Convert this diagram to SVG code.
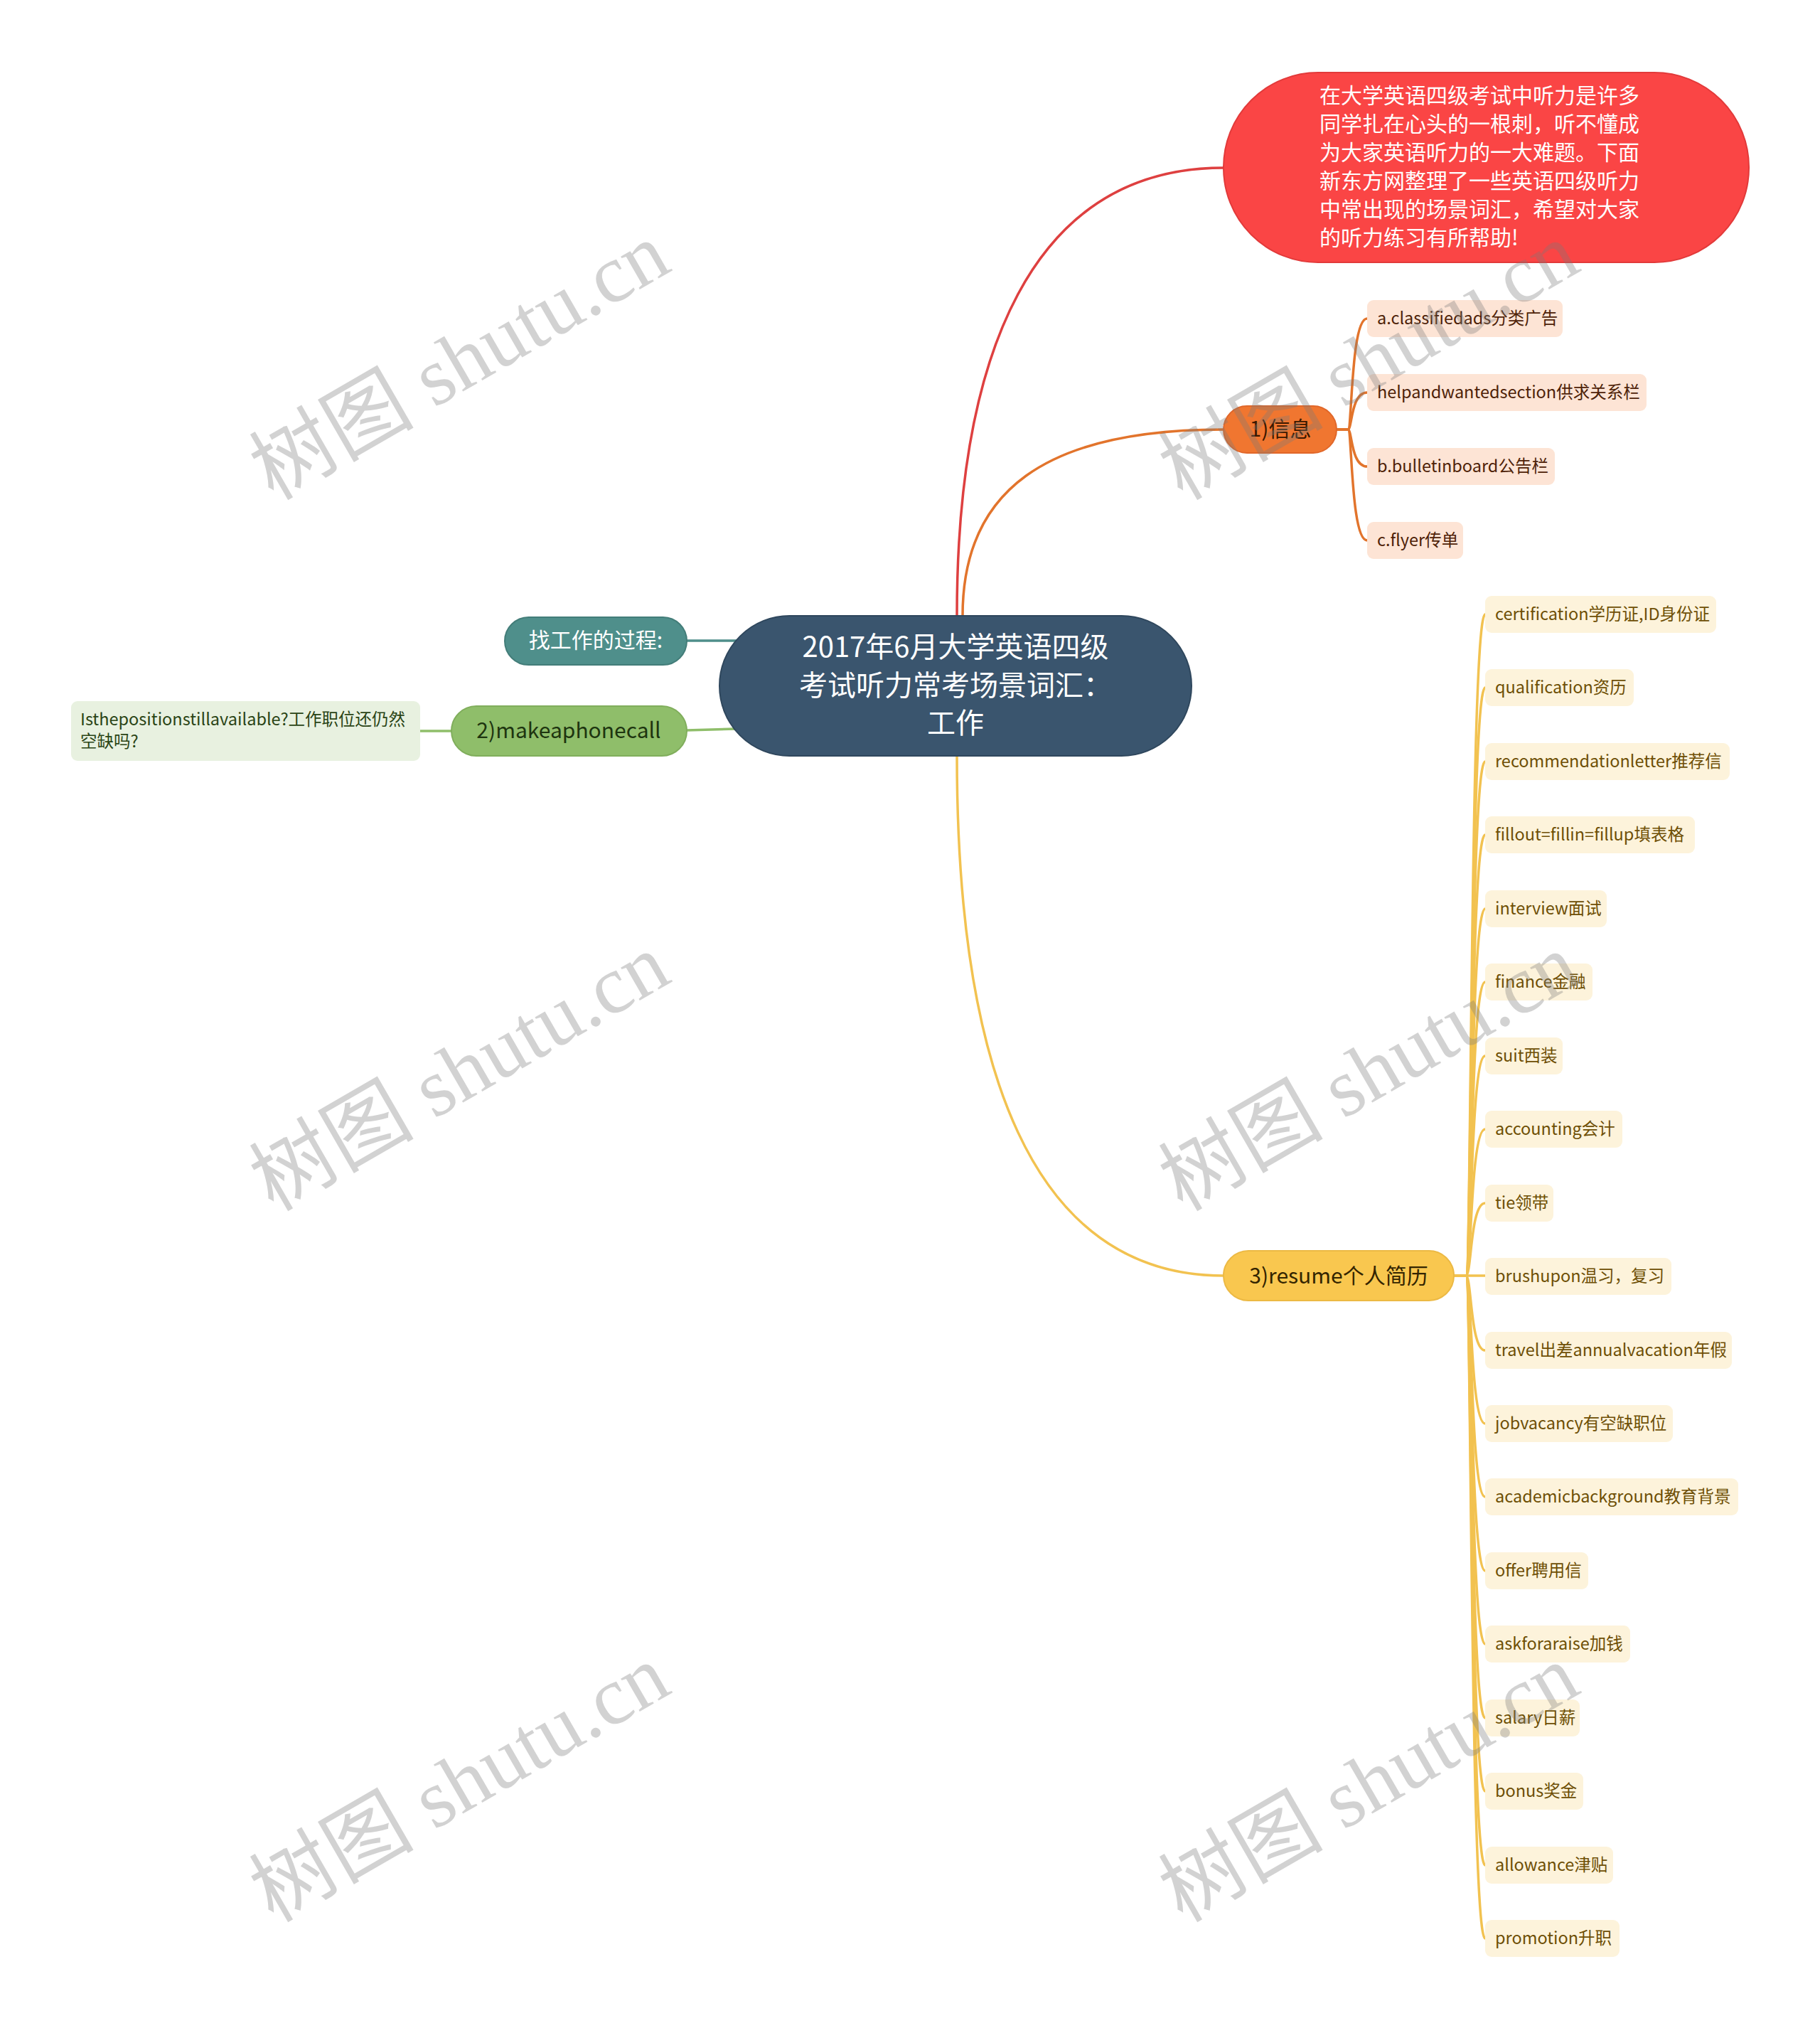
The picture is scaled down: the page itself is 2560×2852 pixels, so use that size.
<svg xmlns="http://www.w3.org/2000/svg" width="2560" height="2852" viewBox="0 0 2560 2852">
<style>
text{font-family:"Noto Sans CJK SC","Noto Sans",sans-serif}
.c{fill:none;stroke-width:3.5;stroke-linecap:round}
.leafO rect{fill:#fde4d5}
.leafO text{font-size:23.5px;fill:#4e2208}
.leafY rect{fill:#fdf3db}
.leafY text{font-size:23.5px;fill:#6e4f05}
.main text{font-size:30px}
.wm{font-family:"Liberation Serif","Noto Sans CJK SC",serif;font-size:116px;fill:#7a7a7a;opacity:0.33}
</style>
<rect width="2560" height="2852" fill="#ffffff"/>
<g id="connectors">
<path class="c" stroke="#de4040" d="M1346,866 C1346,500 1450,236 1721,236"/>
<path class="c" stroke="#e2742c" d="M1354,866 C1354,690 1470,604 1721,604"/>
<path class="c" stroke="#f2c250" d="M1346,1063 C1346,1500 1450,1794 1721,1794"/>
<path class="c" stroke="#4f8f8b" d="M966,901 L1036,901"/>
<path class="c" stroke="#8fbe6a" d="M966,1027 L1034,1025"/>
<path class="c" stroke="#8fbe6a" d="M591,1028 L635,1028"/>
<g stroke="#e2742c">
<path class="c" d="M1880,604 H1896 C1902,604 1900,448 1923,448"/>
<path class="c" d="M1880,604 H1896 C1902,604 1900,552 1923,552"/>
<path class="c" d="M1880,604 H1896 C1902,604 1900,656 1923,656"/>
<path class="c" d="M1880,604 H1896 C1902,604 1900,760 1923,760"/>
</g>
<g stroke="#f2c250">
<path class="c" d="M2045,1794 H2062 C2070,1794 2068,864 2089,864"/>
<path class="c" d="M2045,1794 H2062 C2070,1794 2068,967 2089,967"/>
<path class="c" d="M2045,1794 H2062 C2070,1794 2068,1071 2089,1071"/>
<path class="c" d="M2045,1794 H2062 C2070,1794 2068,1174 2089,1174"/>
<path class="c" d="M2045,1794 H2062 C2070,1794 2068,1278 2089,1278"/>
<path class="c" d="M2045,1794 H2062 C2070,1794 2068,1381 2089,1381"/>
<path class="c" d="M2045,1794 H2062 C2070,1794 2068,1485 2089,1485"/>
<path class="c" d="M2045,1794 H2062 C2070,1794 2068,1588 2089,1588"/>
<path class="c" d="M2045,1794 H2062 C2070,1794 2068,1692 2089,1692"/>
<path class="c" d="M2045,1794 H2089"/>
<path class="c" d="M2045,1794 H2062 C2070,1794 2068,1899 2089,1899"/>
<path class="c" d="M2045,1794 H2062 C2070,1794 2068,2002 2089,2002"/>
<path class="c" d="M2045,1794 H2062 C2070,1794 2068,2105 2089,2105"/>
<path class="c" d="M2045,1794 H2062 C2070,1794 2068,2209 2089,2209"/>
<path class="c" d="M2045,1794 H2062 C2070,1794 2068,2312 2089,2312"/>
<path class="c" d="M2045,1794 H2062 C2070,1794 2068,2416 2089,2416"/>
<path class="c" d="M2045,1794 H2062 C2070,1794 2068,2519 2089,2519"/>
<path class="c" d="M2045,1794 H2062 C2070,1794 2068,2623 2089,2623"/>
<path class="c" d="M2045,1794 H2062 C2070,1794 2068,2726 2089,2726"/>
</g>
</g>
<g id="root">
<rect x="1012" y="866" width="664" height="197" rx="98.5" fill="#3a556e" stroke="#2f475d" stroke-width="2"/>
<text x="1344" y="924" font-size="40" fill="#ffffff" text-anchor="middle">2017年6月大学英语四级</text>
<text x="1344" y="978" font-size="40" fill="#ffffff" text-anchor="middle">考试听力常考场景词汇：</text>
<text x="1344" y="1031" font-size="40" fill="#ffffff" text-anchor="middle">工作</text>
</g>
<g id="intro">
<rect x="1721" y="102" width="739" height="267" rx="133" fill="#fa4545" stroke="#e23a3a" stroke-width="2"/>
<g font-size="30" fill="#ffffff">
<text x="1856" y="145">在大学英语四级考试中听力是许多</text>
<text x="1856" y="185">同学扎在心头的一根刺，听不懂成</text>
<text x="1856" y="225">为大家英语听力的一大难题。下面</text>
<text x="1856" y="265">新东方网整理了一些英语四级听力</text>
<text x="1856" y="305">中常出现的场景词汇，希望对大家</text>
<text x="1856" y="345">的听力练习有所帮助!</text>
</g>
</g>
<g id="info" class="main">
<rect x="1721" y="571" width="159" height="66" rx="33" fill="#f07630" stroke="#e0672a" stroke-width="2"/>
<text x="1801" y="614" fill="#3a1800" text-anchor="middle">1)信息</text>
</g>
<g id="info-1" class="leafO"><rect x="1923" y="422" width="275" height="52" rx="9"/><text x="1937" y="456">a.classifiedads分类广告</text></g>
<g id="info-2" class="leafO"><rect x="1923" y="526" width="393" height="52" rx="9"/><text x="1937" y="560">helpandwantedsection供求关系栏</text></g>
<g id="info-3" class="leafO"><rect x="1923" y="630" width="264" height="52" rx="9"/><text x="1937" y="664">b.bulletinboard公告栏</text></g>
<g id="info-4" class="leafO"><rect x="1923" y="734" width="135" height="52" rx="9"/><text x="1937" y="768">c.flyer传单</text></g>
<g id="process" class="main">
<rect x="710" y="868" width="256" height="67" rx="33.5" fill="#4f8f8b" stroke="#437d79" stroke-width="2"/>
<text x="838" y="911" fill="#ffffff" text-anchor="middle">找工作的过程:</text>
</g>
<g id="call" class="main">
<rect x="635" y="993" width="331" height="70" rx="35" fill="#8fbe6a" stroke="#80ae5c" stroke-width="2"/>
<text x="800" y="1038" fill="#1e3510" text-anchor="middle">2)makeaphonecall</text>
</g>
<g id="call-1">
<rect x="100" y="986" width="491" height="84" rx="9" fill="#e8f1e0"/>
<text x="113" y="1020" font-size="23.5" fill="#2a4415">Isthepositionstillavailable?工作职位还仍然</text>
<text x="113" y="1051" font-size="23.5" fill="#2a4415">空缺吗?</text>
</g>
<g id="resume" class="main">
<rect x="1721" y="1759" width="324" height="70" rx="35" fill="#f9c74f" stroke="#ecb944" stroke-width="2"/>
<text x="1883" y="1805" fill="#332400" text-anchor="middle">3)resume个人简历</text>
</g>
<g id="r1" class="leafY"><rect x="2089" y="838" width="325" height="52" rx="9"/><text x="2103" y="872">certification学历证,ID身份证</text></g>
<g id="r2" class="leafY"><rect x="2089" y="941" width="209" height="52" rx="9"/><text x="2103" y="975">qualification资历</text></g>
<g id="r3" class="leafY"><rect x="2089" y="1045" width="344" height="52" rx="9"/><text x="2103" y="1079">recommendationletter推荐信</text></g>
<g id="r4" class="leafY"><rect x="2089" y="1148" width="295" height="52" rx="9"/><text x="2103" y="1182">fillout=fillin=fillup填表格</text></g>
<g id="r5" class="leafY"><rect x="2089" y="1252" width="171" height="52" rx="9"/><text x="2103" y="1286">interview面试</text></g>
<g id="r6" class="leafY"><rect x="2089" y="1355" width="151" height="52" rx="9"/><text x="2103" y="1389">finance金融</text></g>
<g id="r7" class="leafY"><rect x="2089" y="1459" width="109" height="52" rx="9"/><text x="2103" y="1493">suit西装</text></g>
<g id="r8" class="leafY"><rect x="2089" y="1562" width="193" height="52" rx="9"/><text x="2103" y="1596">accounting会计</text></g>
<g id="r9" class="leafY"><rect x="2089" y="1666" width="96" height="52" rx="9"/><text x="2103" y="1700">tie领带</text></g>
<g id="r10" class="leafY"><rect x="2089" y="1769" width="262" height="52" rx="9"/><text x="2103" y="1803">brushupon温习，复习</text></g>
<g id="r11" class="leafY"><rect x="2089" y="1873" width="347" height="52" rx="9"/><text x="2103" y="1907">travel出差annualvacation年假</text></g>
<g id="r12" class="leafY"><rect x="2089" y="1976" width="264" height="52" rx="9"/><text x="2103" y="2010">jobvacancy有空缺职位</text></g>
<g id="r13" class="leafY"><rect x="2089" y="2079" width="356" height="52" rx="9"/><text x="2103" y="2113">academicbackground教育背景</text></g>
<g id="r14" class="leafY"><rect x="2089" y="2183" width="145" height="52" rx="9"/><text x="2103" y="2217">offer聘用信</text></g>
<g id="r15" class="leafY"><rect x="2089" y="2286" width="204" height="52" rx="9"/><text x="2103" y="2320">askforaraise加钱</text></g>
<g id="r16" class="leafY"><rect x="2089" y="2390" width="133" height="52" rx="9"/><text x="2103" y="2424">salary日薪</text></g>
<g id="r17" class="leafY"><rect x="2089" y="2493" width="138" height="52" rx="9"/><text x="2103" y="2527">bonus奖金</text></g>
<g id="r18" class="leafY"><rect x="2089" y="2597" width="180" height="52" rx="9"/><text x="2103" y="2631">allowance津贴</text></g>
<g id="r19" class="leafY"><rect x="2089" y="2700" width="189" height="52" rx="9"/><text x="2103" y="2734">promotion升职</text></g>
<g id="watermarks">
<text class="wm" text-anchor="middle" transform="translate(666,542) rotate(-30)">树图 shutu.cn</text>
<text class="wm" text-anchor="middle" transform="translate(666,1542) rotate(-30)">树图 shutu.cn</text>
<text class="wm" text-anchor="middle" transform="translate(666,2542) rotate(-30)">树图 shutu.cn</text>
<text class="wm" text-anchor="middle" transform="translate(1945,542) rotate(-30)">树图 shutu.cn</text>
<text class="wm" text-anchor="middle" transform="translate(1945,1542) rotate(-30)">树图 shutu.cn</text>
<text class="wm" text-anchor="middle" transform="translate(1945,2542) rotate(-30)">树图 shutu.cn</text>
</g>
</svg>
